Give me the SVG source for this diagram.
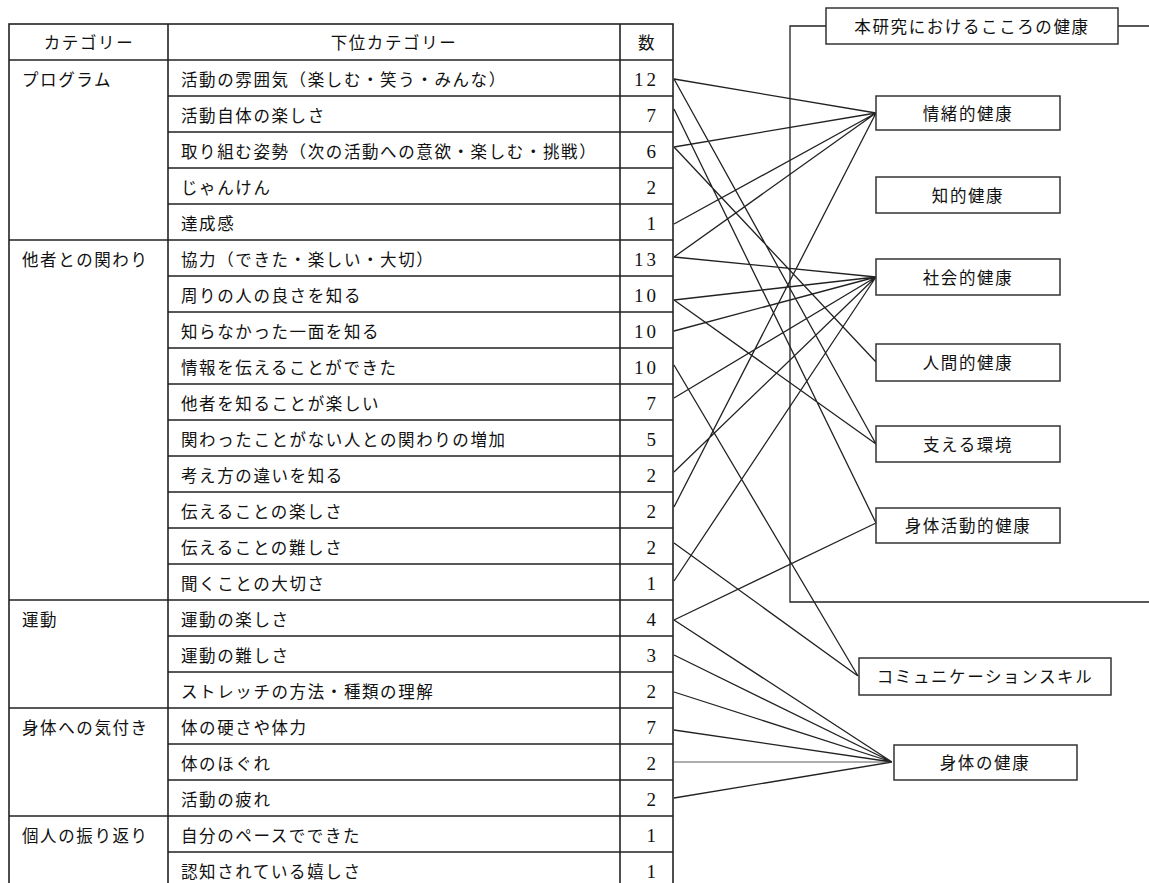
<svg xmlns="http://www.w3.org/2000/svg" width="1149" height="883" viewBox="0 0 1149 883">
<style>
.t{font-family:"Noto Sans CJK JP","Noto Sans CJK SC",sans-serif;font-size:16.5px;letter-spacing:1.6px;fill:#111;dominant-baseline:central}
.n{font-family:"Liberation Serif",serif;font-size:19px;letter-spacing:3px;fill:#111;dominant-baseline:central;text-anchor:end}
.c{text-anchor:middle}
.g{stroke:#222;stroke-width:1.6;fill:none}
.b{stroke:#333;stroke-width:1.5;fill:#fff}
.l{stroke:#222;stroke-width:1.3;fill:none}
</style>
<rect width="1149" height="883" fill="#fff"/>
<g id="table">
<rect class="g" x="9" y="24" width="664" height="880"/>
<line class="g" x1="168" y1="24" x2="168" y2="900"/>
<line class="g" x1="620" y1="24" x2="620" y2="900"/>
<line class="g" x1="9" y1="60" x2="673" y2="60"/>
<path class="g" d="M168 96H673M168 132H673M168 168H673M168 204H673M9 240H673M168 276H673M168 312H673M168 348H673M168 384H673M168 420H673M168 456H673M168 492H673M168 528H673M168 564H673M9 600H673M168 636H673M168 672H673M9 708H673M168 744H673M168 780H673M9 816H673M168 852H673"/>
<text class="t c" x="89" y="42">カテゴリー</text>
<text class="t c" x="394" y="42">下位カテゴリー</text>
<text class="t" x="638" y="42">数</text>
<text class="t" x="22" y="79">プログラム</text>
<text class="t" x="22" y="259">他者との関わり</text>
<text class="t" x="22" y="619">運動</text>
<text class="t" x="22" y="727">身体への気付き</text>
<text class="t" x="22" y="835">個人の振り返り</text>
<text class="t" x="181" y="79">活動の雰囲気（楽しむ・笑う・みんな）</text>
<text class="t" x="181" y="115">活動自体の楽しさ</text>
<text class="t" x="181" y="151">取り組む姿勢（次の活動への意欲・楽しむ・挑戦）</text>
<text class="t" x="181" y="187">じゃんけん</text>
<text class="t" x="181" y="223">達成感</text>
<text class="t" x="181" y="259">協力（できた・楽しい・大切）</text>
<text class="t" x="181" y="295">周りの人の良さを知る</text>
<text class="t" x="181" y="331">知らなかった一面を知る</text>
<text class="t" x="181" y="367">情報を伝えることができた</text>
<text class="t" x="181" y="403">他者を知ることが楽しい</text>
<text class="t" x="181" y="439">関わったことがない人との関わりの増加</text>
<text class="t" x="181" y="475">考え方の違いを知る</text>
<text class="t" x="181" y="511">伝えることの楽しさ</text>
<text class="t" x="181" y="547">伝えることの難しさ</text>
<text class="t" x="181" y="583">聞くことの大切さ</text>
<text class="t" x="181" y="619">運動の楽しさ</text>
<text class="t" x="181" y="655">運動の難しさ</text>
<text class="t" x="181" y="691">ストレッチの方法・種類の理解</text>
<text class="t" x="181" y="727">体の硬さや体力</text>
<text class="t" x="181" y="763">体のほぐれ</text>
<text class="t" x="181" y="799">活動の疲れ</text>
<text class="t" x="181" y="835">自分のペースでできた</text>
<text class="t" x="181" y="871">認知されている嬉しさ</text>
<text class="n" x="659" y="79">12</text>
<text class="n" x="659" y="115">7</text>
<text class="n" x="659" y="151">6</text>
<text class="n" x="659" y="187">2</text>
<text class="n" x="659" y="223">1</text>
<text class="n" x="659" y="259">13</text>
<text class="n" x="659" y="295">10</text>
<text class="n" x="659" y="331">10</text>
<text class="n" x="659" y="367">10</text>
<text class="n" x="659" y="403">7</text>
<text class="n" x="659" y="439">5</text>
<text class="n" x="659" y="475">2</text>
<text class="n" x="659" y="511">2</text>
<text class="n" x="659" y="547">2</text>
<text class="n" x="659" y="583">1</text>
<text class="n" x="659" y="619">4</text>
<text class="n" x="659" y="655">3</text>
<text class="n" x="659" y="691">2</text>
<text class="n" x="659" y="727">7</text>
<text class="n" x="659" y="763">2</text>
<text class="n" x="659" y="799">2</text>
<text class="n" x="659" y="835">1</text>
<text class="n" x="659" y="871">1</text>
</g>
<g id="frame">
<path class="l" d="M826 26H790V602H1149M1118 26H1149"/>
</g>
<g id="connectors">
<path class="l" d="M674 79L876 113M674 79L876 444M674 109L876 523M674 147L876 113M674 147L876 362M674 224L876 113M674 257L876 113M674 257L876 277M674 300L876 277M674 300L876 444M674 331L876 277M674 365L858 676M674 398L876 277M674 472L876 277M674 507L876 113M674 543L858 676M674 581L876 277M674 620L876 523M674 620L892 762M674 655L892 762M674 692L892 762M674 730L892 762M674 798L892 762"/>
<path d="M674 762H892" stroke="#333" stroke-width="0.8"/>
</g>
<g id="n-title"><rect class="b" x="826" y="8" width="292" height="36"/><text class="t c" x="972" y="26">本研究におけるこころの健康</text></g>
<g id="n-emotional"><rect class="b" x="876" y="96" width="184" height="34"/><text class="t c" x="968" y="113">情緒的健康</text></g>
<g id="n-intellectual"><rect class="b" x="876" y="177" width="184" height="36"/><text class="t c" x="968" y="195">知的健康</text></g>
<g id="n-social"><rect class="b" x="876" y="259" width="184" height="36"/><text class="t c" x="968" y="277">社会的健康</text></g>
<g id="n-human"><rect class="b" x="876" y="344" width="184" height="37"/><text class="t c" x="968" y="362">人間的健康</text></g>
<g id="n-support"><rect class="b" x="876" y="426" width="184" height="36"/><text class="t c" x="968" y="444">支える環境</text></g>
<g id="n-physact"><rect class="b" x="876" y="508" width="184" height="35"/><text class="t c" x="968" y="525">身体活動的健康</text></g>
<g id="n-comm"><rect class="b" x="859" y="658" width="252" height="37"/><text class="t c" x="985" y="676">コミュニケーションスキル</text></g>
<g id="n-body"><rect class="b" x="894" y="745" width="183" height="35"/><text class="t c" x="985" y="762">身体の健康</text></g>
</svg>
